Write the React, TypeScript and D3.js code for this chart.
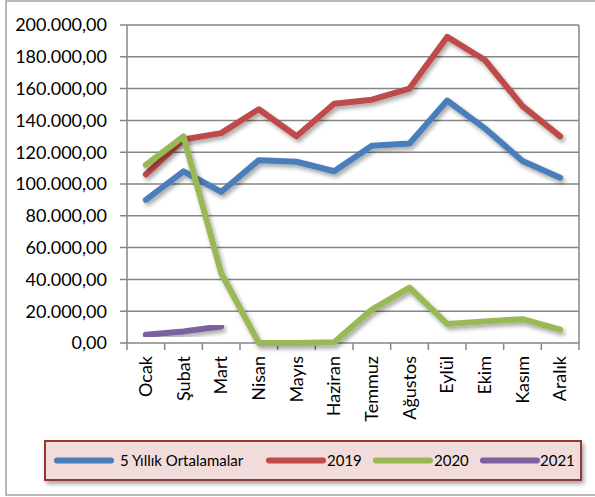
import React from 'react';
import { scaleBand, scaleLinear, line } from 'd3';

const months = ['Ocak', 'Şubat', 'Mart', 'Nisan', 'Mayıs', 'Haziran', 'Temmuz', 'Ağustos', 'Eylül', 'Ekim', 'Kasım', 'Aralık'];
const avg5 = [90000, 108000, 95000, 115000, 114000, 108000, 124000, 125500, 152500, 135000, 114500, 104000];
const y2019 = [106000, 128000, 132000, 147000, 130000, 150500, 153000, 160000, 192500, 178000, 149000, 130000];
const y2020 = [112000, 130000, 44000, 0, 0, 500, 21000, 34800, 12000, 13600, 15000, 8400];
const y2021 = [5200, 7300, 10400];
const yTicks = [0, 20000, 40000, 60000, 80000, 100000, 120000, 140000, 160000, 180000, 200000];

const series = [
  { name: '5 Yıllık Ortalamalar', values: avg5, color: '#4a7ebb' },
  { name: '2019', values: y2019, color: '#be4b48' },
  { name: '2020', values: y2020, color: '#98b954' },
  { name: '2021', values: y2021, color: '#7d60a0' },
];

const fmt = (v: number) => {
  const s = Math.round(v).toString().replace(/\B(?=(\d{3})+(?!\d))/g, '.');
  return s + ',00';
};

const App = () => {
  const left = 127, right = 579, top = 25, bottom = 343;
  const x = scaleBand().domain(months).range([left, right]);
  const y = scaleLinear().domain([0, 200000]).range([bottom, top]);
  const cx = (i: number) => (x(months[i]) as number) + x.bandwidth() / 2;
  const gen = line<number>().x((d, i) => cx(i)).y(d => y(d));

  // legend layout
  const legendItems = [
    { lx: 57, tx: 120 },
    { lx: 269, tx: 327 },
    { lx: 376, tx: 434 },
    { lx: 483, tx: 540 },
  ];

  return (
    <svg width={595} height={497} style={{ position: 'absolute', left: 0, top: 0, fontFamily: 'Lato, sans-serif' }}>
      <defs>
        <filter id="sh" x="-10%" y="-10%" width="120%" height="130%">
          <feDropShadow dx="2" dy="3" stdDeviation="2" floodColor="#000" floodOpacity="0.35" />
        </filter>
      </defs>
      <rect x={0} y={0} width={595} height={497} fill="#fff" />
      <rect x={6} y={1} width={600} height={494} fill="none" stroke="#a0a0a0" strokeWidth={1.5} />

      {yTicks.map(t => (
        <g key={t}>
          <line x1={left - 7} x2={right} y1={y(t)} y2={y(t)} stroke="#868686" strokeWidth={1.5} />
          <text x={107} y={y(t)} dy="0.35em" textAnchor="end" fontSize={18} fill="#000">{fmt(t)}</text>
        </g>
      ))}
      <line x1={left} x2={left} y1={top} y2={bottom} stroke="#868686" strokeWidth={1.5} />
      <line x1={right} x2={right} y1={top} y2={bottom} stroke="#868686" strokeWidth={1.5} />
      {months.map(m => (
        <line key={'t' + m} x1={x(m) as number} x2={x(m) as number} y1={bottom} y2={bottom + 7} stroke="#868686" strokeWidth={1.5} />
      ))}
      <line x1={right} x2={right} y1={bottom} y2={bottom + 7} stroke="#868686" strokeWidth={1.5} />

      {months.map((m, i) => (
        <text key={m} transform={`translate(${cx(i) + 6},${bottom + 13}) rotate(-90)`} textAnchor="end" fontSize={18} fill="#000">{m}</text>
      ))}

      {series.map(s => (
        <path key={s.name} d={gen(s.values) || ''} fill="none" stroke={s.color} strokeWidth={6}
          strokeLinejoin="round" strokeLinecap="round" filter="url(#sh)" />
      ))}

      <rect x={45} y={441} width={536} height={39} fill="#f2dcdb" stroke="#953735" strokeWidth={2} filter="url(#sh)" />
      {series.map((s, i) => (
        <g key={'l' + s.name}>
          <line x1={legendItems[i].lx} x2={legendItems[i].lx + 54} y1={460.5} y2={460.5} stroke={s.color} strokeWidth={6} strokeLinecap="round" />
          <text x={legendItems[i].tx} y={460.5} dy="0.35em" fontSize={15} fill="#000">{s.name}</text>
        </g>
      ))}
    </svg>
  );
};

export default App;
